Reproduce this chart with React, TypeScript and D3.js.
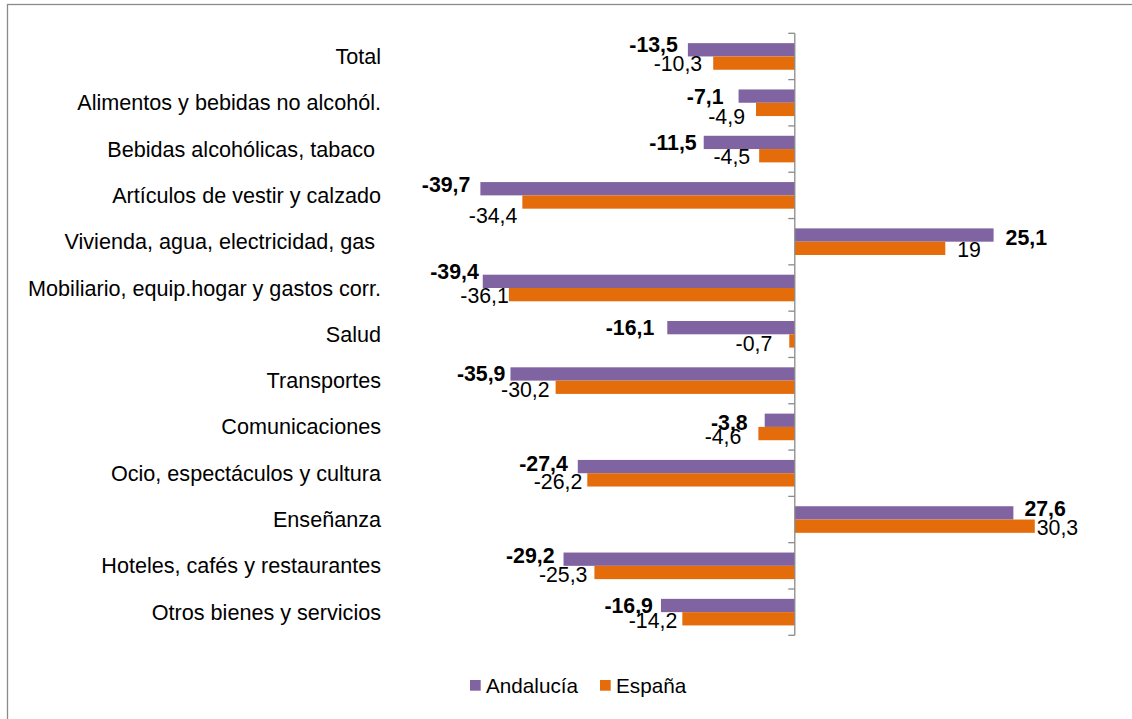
import React from "react";
import * as d3 from "d3";

const categories = [
  "Total",
  "Alimentos y bebidas no alcohól.",
  "Bebidas alcohólicas, tabaco ",
  "Artículos de vestir y calzado",
  "Vivienda, agua, electricidad, gas ",
  "Mobiliario, equip.hogar y gastos corr.",
  "Salud",
  "Transportes",
  "Comunicaciones",
  "Ocio, espectáculos y cultura",
  "Enseñanza",
  "Hoteles, cafés y restaurantes",
  "Otros bienes y servicios",
];
const andalucia = [-13.5, -7.1, -11.5, -39.7, 25.1, -39.4, -16.1, -35.9, -3.8, -27.4, 27.6, -29.2, -16.9];
const espana = [-10.3, -4.9, -4.5, -34.4, 19, -36.1, -0.7, -30.2, -4.6, -26.2, 30.3, -25.3, -14.2];
const seriesNames = ["Andalucía", "España"];

// label placement nudges (gap from bar end, vertical offset)
const andGap = [10, 15, 7, 10, 12, 4, 13, 5, 17, 10, 11, 9, 8];
const espGap = [11, 11, 9, 5, 12, 0, 17, 6, 17, 5, 2, 7, 5];
const andDy = [-5, 0, 0, -4, 2, -10, 0, -1, 2, -3, -5, -4, 0];
const espDy = [0, 7, 1, 13, 1, 1, 2, 2, 3, 1, 1, 2, 2];

const PURPLE = "#8064A2";
const ORANGE = "#E46C0A";
const FONT = "'Liberation Sans', Arial, sans-serif";

export default function App() {
  const W = 1132, H = 719;
  const zero = 794.8;
  const k = 7.92;
  const x = d3.scaleLinear().domain([-40, 40]).range([zero - 40 * k, zero + 40 * k]);
  const y = d3.scaleBand().domain(categories).range([33.3, 635.3]).paddingInner(0).paddingOuter(0);
  const bw = y.bandwidth();
  const barH = 13.3;
  const sub = d3.scaleBand().domain(seriesNames).range([bw / 2 - barH, bw / 2 + barH]);
  const fmt = (v: number) => String(v).replace(".", ",");
  const ticks = d3.range(categories.length + 1).map((i) => 33.3 + i * bw);

  const series = [
    { name: seriesNames[0], vals: andalucia, color: PURPLE, gap: andGap, dy: andDy, bold: true },
    { name: seriesNames[1], vals: espana, color: ORANGE, gap: espGap, dy: espDy, bold: false },
  ];

  return (
    <svg width={W} height={H} style={{ position: "absolute", left: 0, top: 0, background: "#fff" }} fontFamily={FONT}>
      <rect x={7.5} y={4.5} width={W + 20} height={H + 20} fill="#fff" stroke="#8a8a8a" strokeWidth={1.3} />
      {categories.map((c) => (
        <text
          key={c}
          x={381}
          y={(y(c) as number) + bw / 2}
          dy="0.35em"
          textAnchor="end"
          fontSize={21.6}
          fill="#000"
          style={{ whiteSpace: "pre" }}
        >
          {c}
        </text>
      ))}
      {series.map((s) =>
        s.vals.map((v, i) => {
          const by = (y(categories[i]) as number) + (sub(s.name) as number);
          const x0 = Math.min(x(0), x(v));
          const w = Math.abs(x(v) - x(0));
          return <rect key={s.name + i} x={x0} y={by} width={w} height={sub.bandwidth()} fill={s.color} />;
        })
      )}
      <line x1={zero} x2={zero} y1={ticks[0]} y2={ticks[ticks.length - 1]} stroke="#8a8a8a" strokeWidth={1.3} />
      {ticks.map((t, i) => (
        <line key={i} x1={zero - 6.5} x2={zero} y1={t} y2={t} stroke="#8a8a8a" strokeWidth={1.3} />
      ))}
      {series.map((s) =>
        s.vals.map((v, i) => {
          const cy = (y(categories[i]) as number) + (sub(s.name) as number) + sub.bandwidth() / 2 + s.dy[i];
          const neg = v < 0;
          const lx = neg ? x(v) - s.gap[i] : x(v) + s.gap[i];
          return (
            <text
              key={"l" + s.name + i}
              x={lx}
              y={cy}
              dy="0.36em"
              textAnchor={neg ? "end" : "start"}
              fontSize={21.3}
              fontWeight={s.bold ? "bold" : "normal"}
              fill="#000"
            >
              {fmt(v)}
            </text>
          );
        })
      )}
      {series.map((s, i) => {
        const lx = [470, 600][i];
        return (
          <g key={"lg" + i}>
            <rect x={lx} y={680} width={10.7} height={10.7} fill={s.color} />
            <text x={lx + 16} y={693} fontSize={20.7} fill="#000">
              {s.name}
            </text>
          </g>
        );
      })}
    </svg>
  );
}
